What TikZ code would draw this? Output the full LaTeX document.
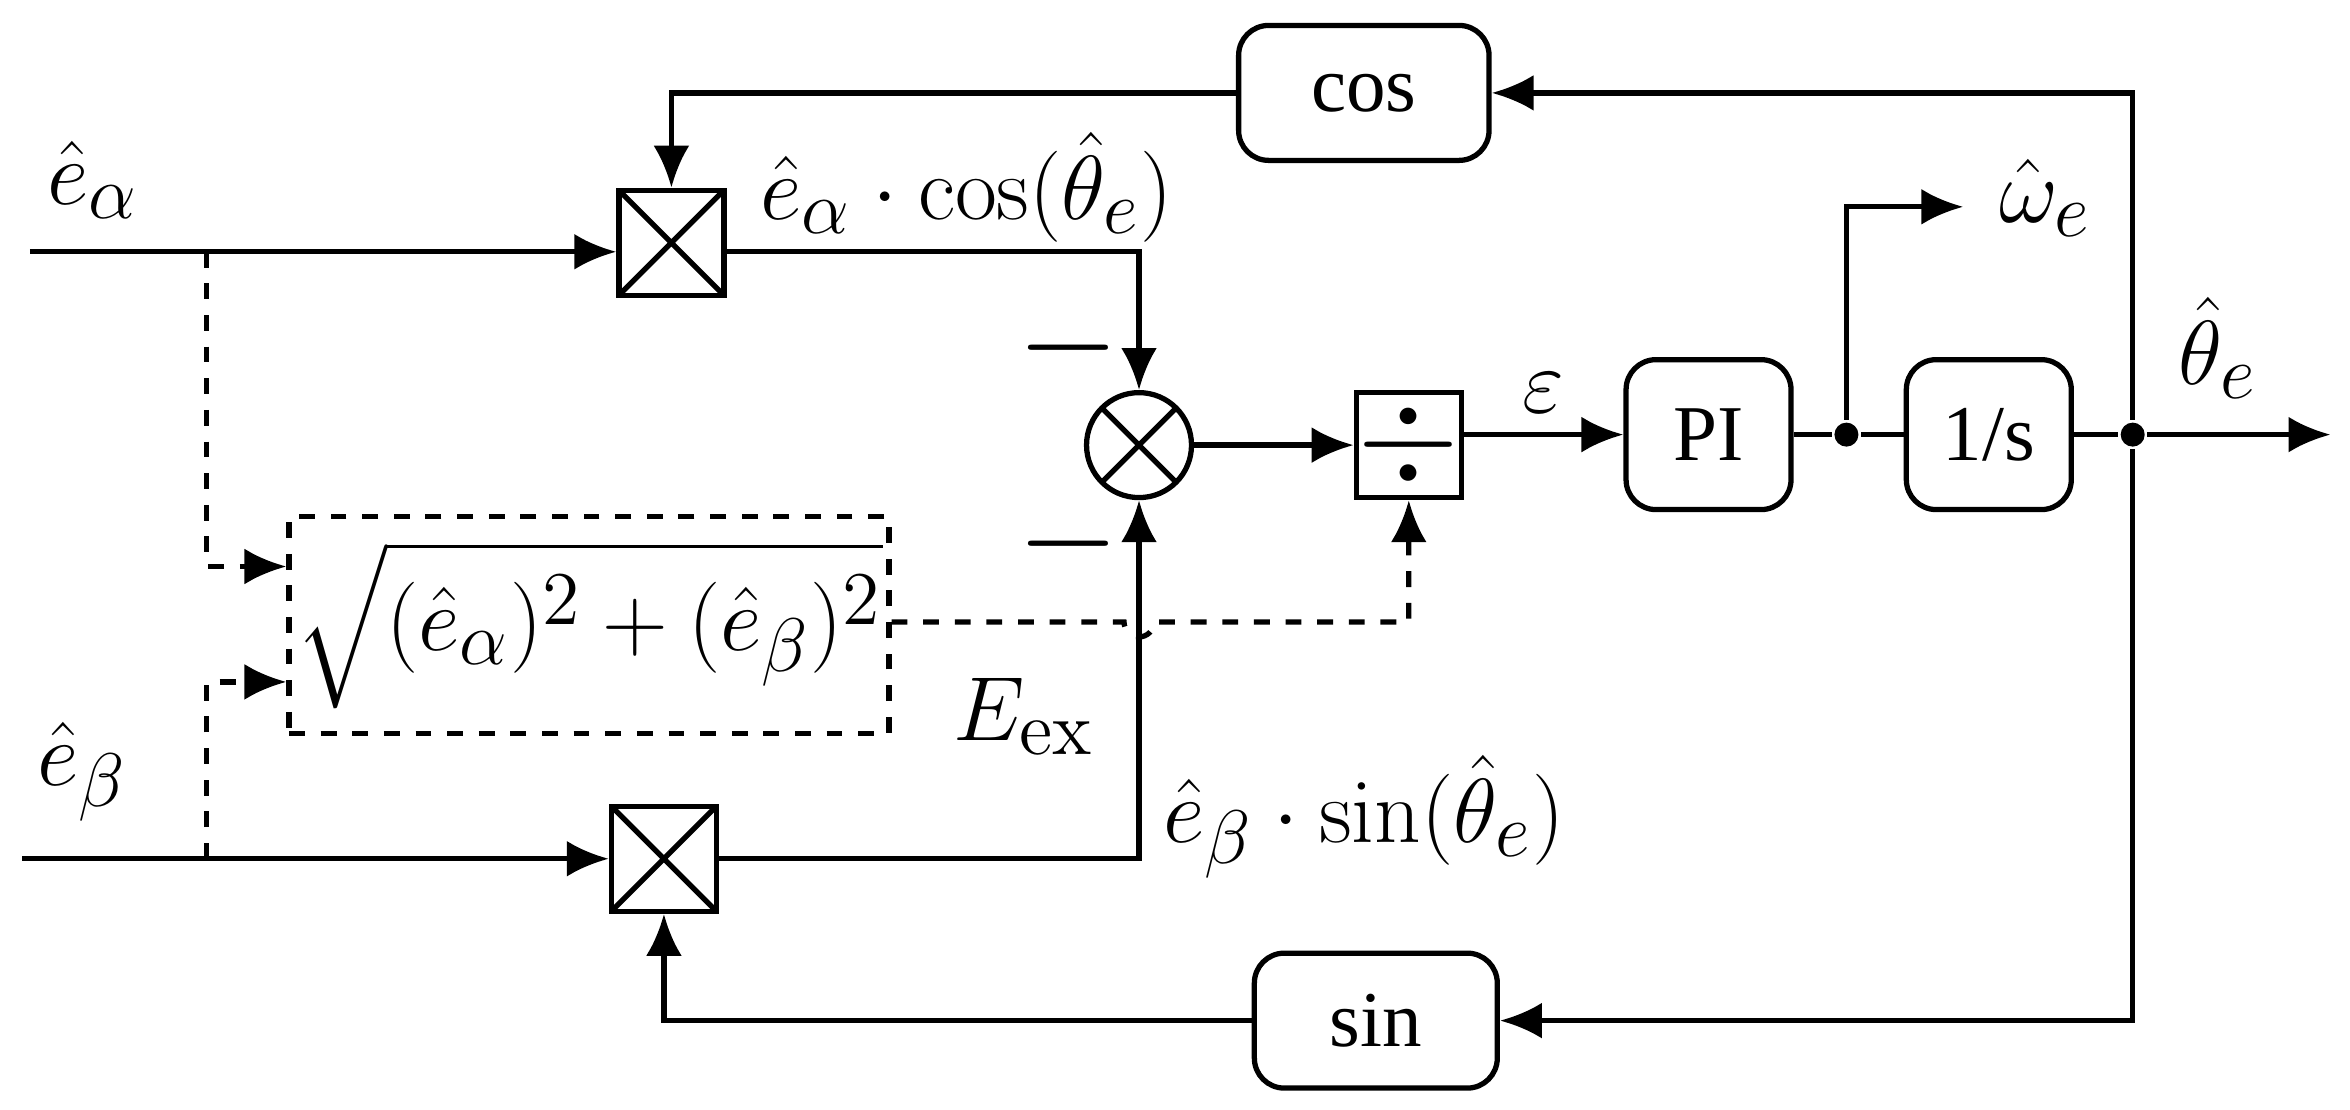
\documentclass[tikz,border=0pt]{standalone}
\usepackage{amsmath}
\usepackage[no-math]{fontspec}
\setmainfont{Liberation Serif}
\usetikzlibrary{positioning, arrows.meta}

\begin{document}
\begin{tikzpicture}[x=0.01cm, y=-0.01cm, line width=1pt, >={Latex[length=2.8mm,width=2.4mm]},
  font=\fontsize{15}{18}\selectfont]
\tikzstyle{block}=[draw, rectangle, rounded corners=2mm, text centered, minimum height=0.9cm]
\tikzstyle{mult}=[draw, rectangle, minimum size=0.7cm, inner sep=0pt, path picture={
  \draw (path picture bounding box.north west) -- (path picture bounding box.south east)
        (path picture bounding box.south west) -- (path picture bounding box.north east);}]
\tikzstyle{dot}=[circle, fill, inner sep=0pt, minimum size=0.16cm]
\tikzstyle{lbl}=[font=\fontsize{19}{22}\selectfont]

\useasboundingbox (0,0) rectangle (1568,740);

\node[block, minimum width=1.67cm](cosb) at (910,62){cos};
\node[block, minimum width=1.62cm](sinb) at (918,681){sin};
\node[mult](m1) at (448,162){};
\node[mult](m2) at (443,573){};
\node[draw, circle, minimum size=0.7cm, inner sep=0pt,
  path picture={\draw (path picture bounding box.north west) -- (path picture bounding box.south east)
  (path picture bounding box.south west) -- (path picture bounding box.north east);}](sum) at (760,297){};
\node[draw, rectangle, minimum size=0.7cm, inner sep=0pt, font=\fontsize{24}{24}\selectfont](divb) at (940,297){$\div$};
\node[block, minimum width=1.1cm, minimum height=1cm](pi) at (1140,290){PI};
\node[block, minimum width=1.1cm, minimum height=1cm](integ) at (1327,290){1/s};
\node[dot](d1) at (1232,290){};
\node[dot](d2) at (1423,290){};
\node[draw, dashed, minimum width=4cm, minimum height=1.45cm](norm) at (393,417){};
\node[lbl] at (393,417){$\sqrt{(\hat e_\alpha)^2+(\hat e_\beta)^2}$};

\coordinate (ina) at (20,168);
\coordinate (inb) at (15,573);
\coordinate (outr) at (1555,290);
\coordinate (om) at (1310,138);

% inputs
\draw[->] (ina) -- (m1.west |- ina);
\draw[->] (inb) -- (m2.west);
\node[lbl] at (62,120){$\hat e_\alpha$};
\node[lbl] at (55,515){$\hat e_\beta$};

% products into summing junction
\draw[->] (m1.east |- 0,168) -| (sum.north);
\draw[->] (m2.east) -| (sum.south);
\node[lbl] at (645,125){$\hat e_\alpha\cdot\cos(\hat\theta_e)$};
\node[lbl] at (910,545){$\hat e_\beta\cdot\sin(\hat\theta_e)$};
\node[font=\fontsize{24}{24}\selectfont] at (713,232){$-$};
\node[font=\fontsize{24}{24}\selectfont] at (713,363){$-$};

% forward path
\draw[->] (sum.east) -- (divb.west);
\draw[->] (divb.east |- pi) -- (pi.west);
\node[lbl] at (1030,262){$\varepsilon$};
\draw (pi) -- (d1) -- (integ);
\draw[->] (integ) -- (d2) -- (outr);
\draw[->] (d1) |- (om);
\node[lbl] at (1365,132){$\hat\omega_e$};
\node[lbl] at (1480,232){$\hat\theta_e$};

% feedback
\draw[->] (d2) |- (cosb.east);
\draw[->] (cosb.west) -| (m1.north);
\draw[->] (d2) |- (sinb.east);
\draw[->] (sinb.west) -| (m2.south);

% amplitude estimation
\draw[dashed, ->] (138,168) |- (norm.west |- 0,378);
\draw[dashed, ->] (138,573) |- (norm.west |- 0,455);
\draw[dashed, ->] (norm.east |- 0,415) -- (750,415) arc (180:0:10) -| (divb.south);
\node[lbl] at (683,478){$E_{\mathrm{ex}}$};
\end{tikzpicture}
\end{document}
